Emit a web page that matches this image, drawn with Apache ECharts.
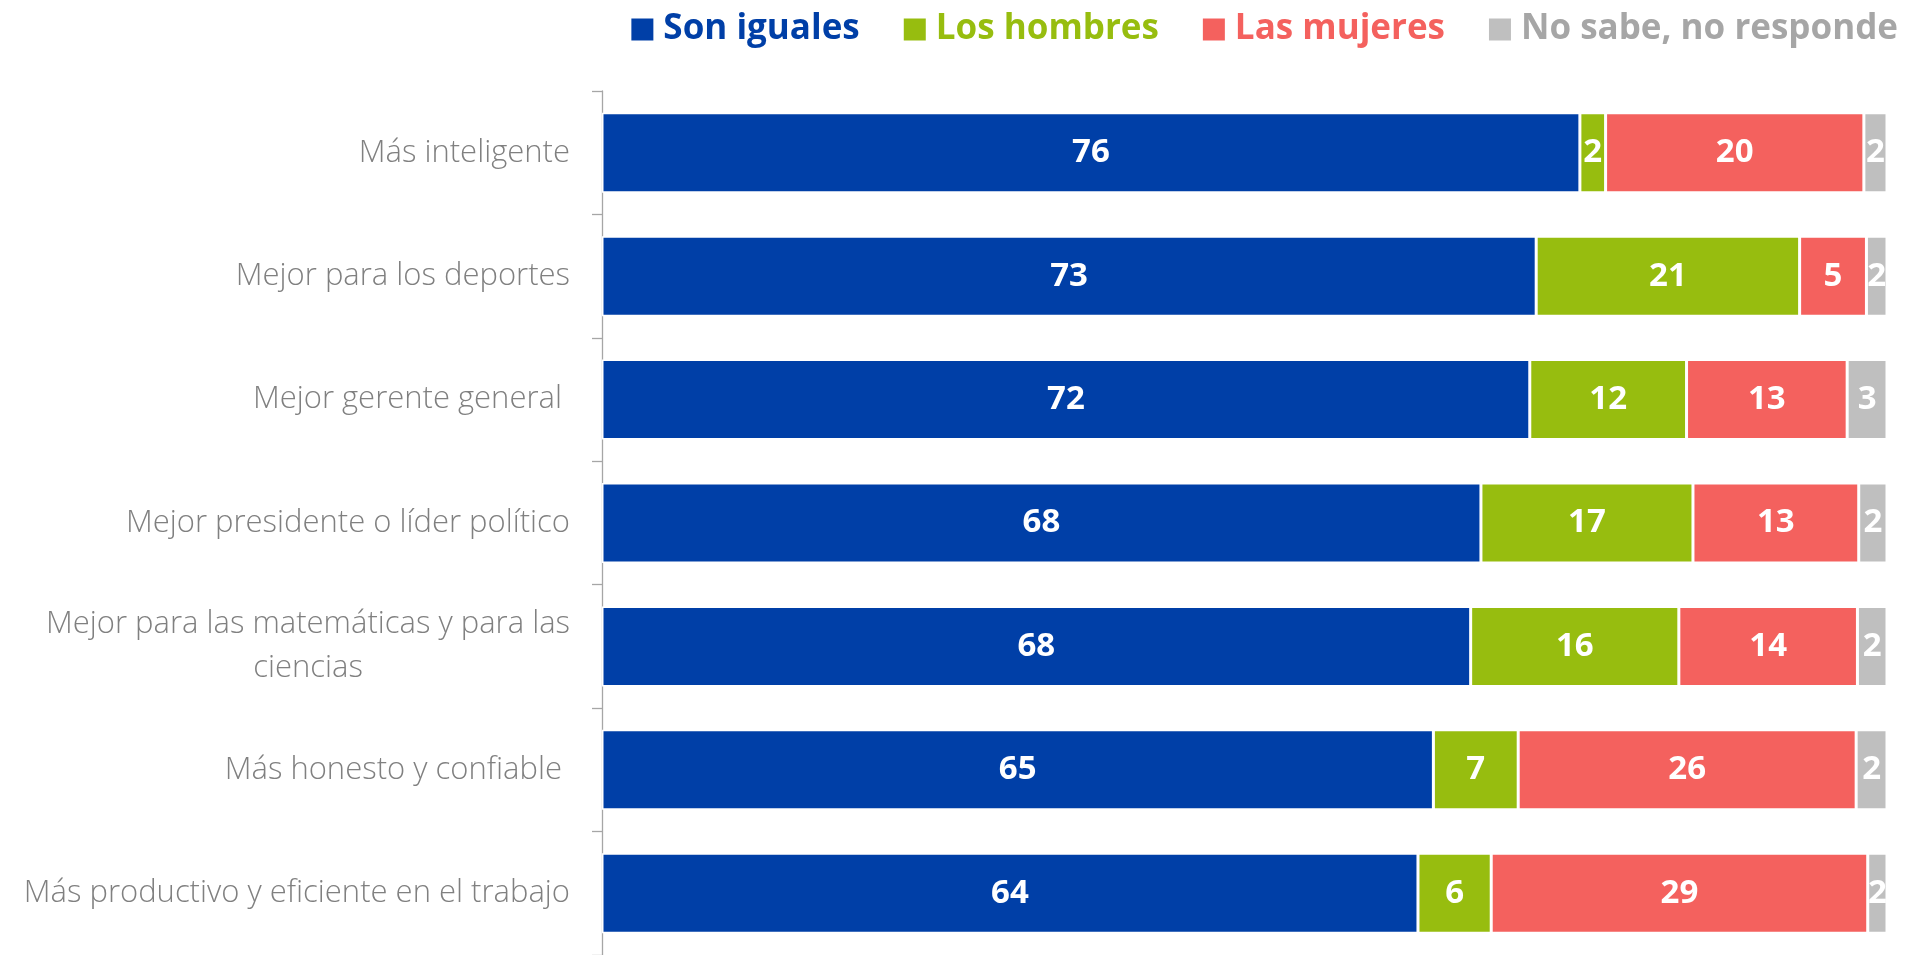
<!DOCTYPE html>
<html>
<head>
<meta charset="utf-8">
<script src="https://cdn.jsdelivr.net/npm/echarts@6/dist/echarts.min.js"></script>
<style>
  html,body{margin:0;padding:0;background:#fff;}
  #chart{width:1911px;height:955px;}
</style>
</head>
<body>
<div id="chart"></div>
<script>
// categorias (de arriba hacia abajo)
const categorias = [
  'Más inteligente',
  'Mejor para los deportes',
  'Mejor gerente general ',
  'Mejor presidente o líder político',
  'Mejor para las matemáticas y para las\nciencias',
  'Más honesto y confiable ',
  'Más productivo y eficiente en el trabajo'
]
const nombres = ['Son iguales', 'Los hombres', 'Las mujeres', 'No sabe, no responde']
const sonIguales = [76.1, 72.7, 72.2, 68.4, 67.6, 64.7, 63.5]
const losHombres = [2.0, 20.5, 12.2, 16.5, 16.2, 6.6, 5.7]
const lasMujeres = [20.1, 5.2, 12.5, 12.9, 13.9, 26.3, 29.3]
const noSabe = [1.8, 1.6, 3.1, 2.2, 2.3, 2.4, 1.5]

const colores = ['#003FA7', '#97BD0F', '#F4615E', '#BFBFBF']
const coloresTexto = ['#003FA7', '#97BD0F', '#F4615E', '#A6A6A6']
const valores = [sonIguales, losHombres, lasMujeres, noSabe]

const fuente = '"Open Sans", Lato, sans-serif'
const labelSize = 31

// ancho de la primera linea para centrar la etiqueta de dos lineas
const cv = document.createElement('canvas').getContext('2d')
cv.font = '300 ' + labelSize + 'px ' + fuente

var myChart = echarts.init(document.getElementById('chart'))

let series = valores.map((v, i) => ({
  name: nombres[i],
  type: 'bar',
  stack: 'total',
  barWidth: 80,
  data: v,
  itemStyle: {color: colores[i], borderColor: '#fff', borderWidth: 1.5},
  label: {
    show: true,
    position: 'inside',
    color: '#fff',
    fontWeight: 'bold',
    fontSize: 33,
    fontFamily: fuente,
    formatter: p => Math.round(p.value)
  }
}))

myChart.setOption({
  animation: false,
  legend: {
    top: 7,
    right: 8,
    icon: 'rect',
    itemWidth: 24,
    itemHeight: 24,
    itemGap: 42,
    data: nombres.map((n, i) => ({
      name: n,
      textStyle: {color: coloresTexto[i]}
    })),
    textStyle: {fontSize: 35, fontWeight: 'bold', fontFamily: fuente, padding: [0, 0, 0, 4]}
  },
  grid: {left: 602, right: 24, top: 91, height: 868},
  xAxis: {type: 'value', min: 0, max: 100, show: false},
  yAxis: {
    type: 'category',
    inverse: true,
    data: categorias,
    axisLine: {show: true, lineStyle: {color: '#A6A6A6', width: 1.3}},
    axisTick: {show: true, length: 10, lineStyle: {color: '#A6A6A6', width: 1.3}},
    axisLabel: {
      margin: 32,
      color: '#808080',
      fontSize: labelSize,
      fontWeight: 300,
      fontFamily: fuente,
      formatter: function (value) {
        if (value.indexOf('\n') < 0) return value
        return value.split('\n').map(l => '{c|' + l + '}').join('\n')
      },
      rich: {
        c: {
          width: cv.measureText('Mejor para las matemáticas y para las').width,
          align: 'center',
          color: '#808080',
          fontSize: labelSize,
          fontWeight: 300,
          fontFamily: fuente,
          lineHeight: 44
        }
      }
    }
  },
  series: series
})
</script>
</body>
</html>
